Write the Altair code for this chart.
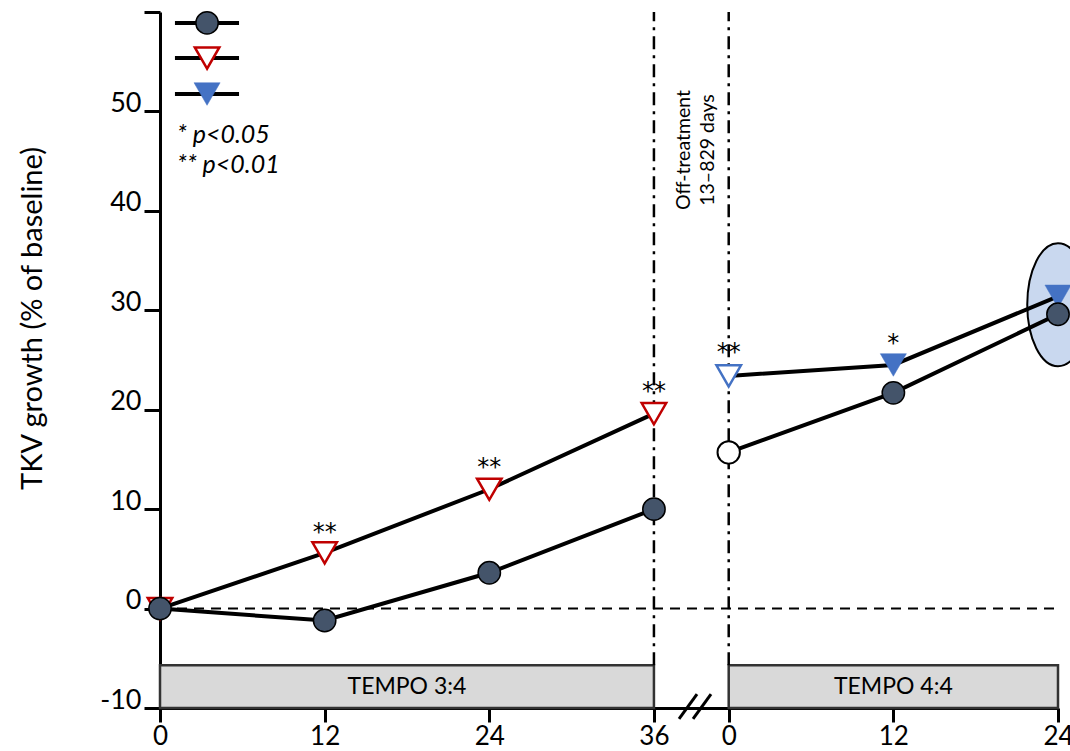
import altair as alt
import pandas as pd

OFF = 41.45          # position where the TEMPO 4:4 time axis starts
XMAX = OFF + 24

# ---- data ----
months_34 = [0, 12, 24, 36]
months_44 = [0, 12, 24]
circle_34 = [0.0, -1.2, 3.6, 10.0]
circle_44 = [15.7, 21.7, 29.6]
red_34 = [0.0, 5.6, 12.0, 19.6]
blue_44 = [23.4, 24.5, 31.4]

star_labels = ["**", "**", "**", "**", "*"]
star_month = [12, 24, 36, OFF + 0, OFF + 12]
star_y = [8.2, 14.7, 22.4, 26.3, 27.2]

x_ticks = [0, 12, 24, 36, OFF, OFF + 12, OFF + 24]
y_ticks = [-10, 0, 10, 20, 30, 40, 50, 60]

FONT = "Lato"

xs = alt.Scale(domain=[0, XMAX], nice=False, zero=False)
ys = alt.Scale(domain=[-10, 60], nice=False, zero=False)

x_axis = alt.Axis(values=x_ticks, title=None, grid=False,
                  labelExpr=f"datum.value > 40 ? format(datum.value - {OFF}, '.0f') : datum.label",
                  domainColor="black", domainWidth=3, tickColor="black", tickWidth=3,
                  tickSize=14, labelFont=FONT, labelFontSize=26, labelColor="black",
                  labelPadding=1, labelFlush=False)
y_axis = alt.Axis(values=y_ticks, title="TKV growth (% of baseline)", grid=False,
                  labelExpr="datum.value >= 60 ? '' : '' + datum.value",
                  domainColor="black", domainWidth=3, tickColor="black", tickWidth=3,
                  tickSize=16, labelFont=FONT, labelFontSize=27, labelColor="black",
                  labelPadding=3, labelBaseline="alphabetic",
                  titleFont=FONT, titleFontSize=29, titleFontWeight="normal",
                  titleColor="black", titleAngle=270, titleX=-128, titleY=306,
                  titleAlign="center", titleBaseline="middle")

X = alt.X("x:Q", scale=xs, axis=x_axis)
Y = alt.Y("y:Q", scale=ys, axis=y_axis)

# ---- tables ----
line_rows = []
for m, v in zip(months_34, circle_34):
    line_rows.append({"x": m, "y": v, "grp": "c34"})
for m, v in zip(months_44, circle_44):
    line_rows.append({"x": OFF + m, "y": v, "grp": "c44"})
for m, v in zip(months_34, red_34):
    line_rows.append({"x": m, "y": v, "grp": "r34"})
for m, v in zip(months_44, blue_44):
    line_rows.append({"x": OFF + m, "y": v, "grp": "b44"})
lines_df = pd.DataFrame(line_rows)

circ_filled = pd.DataFrame({"x": months_34 + [OFF + m for m in months_44[1:]],
                            "y": circle_34 + circle_44[1:]})
circ_open = pd.DataFrame({"x": [OFF + months_44[0]], "y": [circle_44[0]]})
red_df = pd.DataFrame({"x": months_34, "y": red_34})
blue_filled = pd.DataFrame({"x": [OFF + m for m in months_44[1:]], "y": blue_44[1:]})
blue_open = pd.DataFrame({"x": [OFF + months_44[0]], "y": [blue_44[0]]})
stars_df = pd.DataFrame({"x": star_month, "y": star_y, "t": star_labels})

boxes_df = pd.DataFrame({"x": [0, OFF], "x2": [36, OFF + 24], "y": [-10, -10], "y2": [-5.7, -5.7],
                         "t": ["TEMPO 3:4", "TEMPO 4:4"], "xm": [18, OFF + 12], "ym": [-7.85, -7.85]})
vline_df = pd.DataFrame({"x": [36, OFF], "y": [-5.7, -5.7], "y2": [60, 60]})
zero_df = pd.DataFrame({"x": [0], "x2": [XMAX], "y": [0]})
slash_df = pd.DataFrame({"x": [37.83, 38.85], "x2": [39.14, 40.16], "y": [-11.1, -11.1], "y2": [-8.6, -8.6]})
ellipse_df = pd.DataFrame({"x": [OFF + 24], "y": [30.56]})

legend_lines = pd.DataFrame({"x": [1.09] * 3, "x2": [5.76] * 3, "y": [58.9, 55.37, 51.75]})
leg_c = pd.DataFrame({"x": [3.43], "y": [58.9]})
leg_r = pd.DataFrame({"x": [3.43], "y": [55.37]})
leg_b = pd.DataFrame({"x": [3.43], "y": [51.75]})
leg_text = pd.DataFrame({"x": [1.24, 1.24], "y": [47.63, 44.61], "t": ["* p<0.05", "** p<0.01"]})
off_text = pd.DataFrame({"x": [38.19, 39.94], "y": [46.12, 46.12], "t": ["Off-treatment", "13–829 days"]})

ELLIPSE = ("M0,-1C0.276,-1,0.5,-0.552,0.5,0C0.5,0.552,0.276,1,0,1"
           "C-0.276,1,-0.5,0.552,-0.5,0C-0.5,-0.552,-0.276,-1,0,-1Z")

layers = []
layers.append(alt.Chart(boxes_df).mark_rect(fill="#d9d9d9", stroke="#333333", strokeWidth=2.5)
              .encode(x=X, x2="x2:Q", y=Y, y2="y2:Q"))
layers.append(alt.Chart(boxes_df).mark_text(font=FONT, fontSize=23, color="black", baseline="middle")
              .encode(x=alt.X("xm:Q", scale=xs, axis=x_axis), y=alt.Y("ym:Q", scale=ys, axis=y_axis), text="t:N"))
layers.append(alt.Chart(zero_df).mark_rule(color="black", strokeWidth=2, strokeDash=[10, 7])
              .encode(x=X, x2="x2:Q", y=Y))
layers.append(alt.Chart(vline_df).mark_rule(color="black", strokeWidth=2.5, strokeDash=[13, 6, 3, 6])
              .encode(x=X, y=Y, y2="y2:Q"))
layers.append(alt.Chart(slash_df).mark_rule(color="black", strokeWidth=3)
              .encode(x=X, x2="x2:Q", y=Y, y2="y2:Q"))
layers.append(alt.Chart(ellipse_df).mark_point(shape=ELLIPSE, size=15129, filled=True,
                                               fill="#c9d8ef", stroke="black", strokeWidth=2, opacity=1)
              .encode(x=X, y=Y))
layers.append(alt.Chart(lines_df).mark_line(color="black", strokeWidth=4)
              .encode(x=X, y=Y, detail="grp:N", order="x:Q"))
layers.append(alt.Chart(red_df).mark_point(shape="triangle-down", size=600, fill="white", filled=True,
                                           stroke="#c00000", strokeWidth=2.5, opacity=1)
              .encode(x=X, y=Y))
layers.append(alt.Chart(blue_open).mark_point(shape="triangle-down", size=600, fill="white", filled=True,
                                              stroke="#4472c4", strokeWidth=2.5, opacity=1)
              .encode(x=X, y=Y))
layers.append(alt.Chart(blue_filled).mark_point(shape="triangle-down", size=680, filled=True,
                                                fill="#4472c4", stroke="#4472c4", strokeWidth=0.5, opacity=1)
              .encode(x=X, y=Y))
layers.append(alt.Chart(circ_filled).mark_point(shape="circle", size=500, filled=True,
                                                fill="#44546a", stroke="black", strokeWidth=1.5, opacity=1)
              .encode(x=X, y=Y))
layers.append(alt.Chart(circ_open).mark_point(shape="circle", size=500, filled=True,
                                              fill="white", stroke="black", strokeWidth=2, opacity=1)
              .encode(x=X, y=Y))
layers.append(alt.Chart(stars_df).mark_text(font="DejaVu Sans", fontSize=24, color="black",
                                            baseline="middle", dy=6)
              .encode(x=X, y=Y, text="t:N"))
# legend
layers.append(alt.Chart(legend_lines).mark_rule(color="black", strokeWidth=4)
              .encode(x=X, x2="x2:Q", y=Y))
layers.append(alt.Chart(leg_c).mark_point(shape="circle", size=500, filled=True,
                                          fill="#44546a", stroke="black", strokeWidth=1.5, opacity=1)
              .encode(x=X, y=Y))
layers.append(alt.Chart(leg_r).mark_point(shape="triangle-down", size=600, fill="white", filled=True,
                                          stroke="#c00000", strokeWidth=2.5, opacity=1)
              .encode(x=X, y=Y))
layers.append(alt.Chart(leg_b).mark_point(shape="triangle-down", size=680, filled=True,
                                          fill="#4472c4", stroke="#4472c4", strokeWidth=0.5, opacity=1)
              .encode(x=X, y=Y))
layers.append(alt.Chart(leg_text).mark_text(font=FONT, fontSize=25, fontStyle="italic", color="black",
                                            align="left", baseline="middle")
              .encode(x=X, y=Y, text="t:N"))
layers.append(alt.Chart(off_text).mark_text(font=FONT, fontSize=19.5, color="black", angle=270,
                                            align="center", baseline="middle")
              .encode(x=X, y=Y, text="t:N"))

chart = alt.layer(*layers).properties(
    width=898, height=696,
    background="white",
    autosize=alt.AutoSizeParams(type="none"),
    padding={"left": 160, "top": 12, "right": 12, "bottom": 43},
).configure_view(stroke="transparent", strokeWidth=0)

chart.save("out.html", embed_options={"renderer": "svg", "actions": False})
